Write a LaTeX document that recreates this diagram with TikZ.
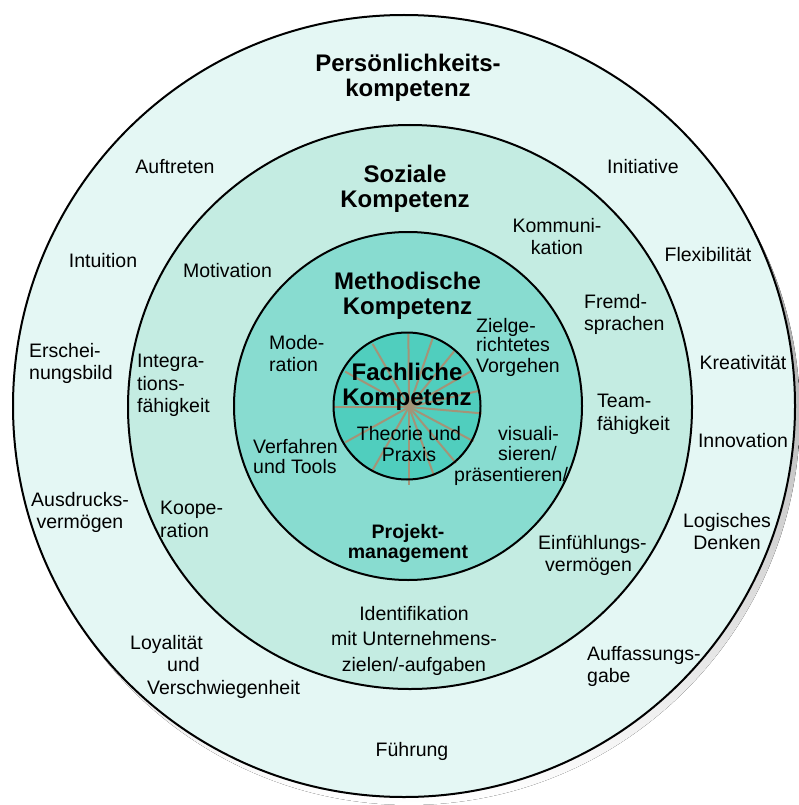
\documentclass[tikz,border=0pt]{standalone}
\usepackage{fontspec}
\setmainfont{Liberation Sans}
\definecolor{ringP}{HTML}{E4F7F4}
\definecolor{ringS}{HTML}{C4ECE2}
\definecolor{ringM}{HTML}{88DCD0}
\definecolor{ringF}{HTML}{50CEBE}
\definecolor{shade}{HTML}{B3B3B3}
\definecolor{spokec}{HTML}{A39478}
\begin{document}
\begin{tikzpicture}[x=1pt,y=-1pt,
  ring/.style={draw=black, line width=2pt},
  spoke/.style={draw=spokec, line width=2pt},
  lbl/.style={inner sep=0pt, font=\fontsize{19.5}{22.5}\selectfont,
    execute at begin node=\strut, execute at end node=\strut},
  lblc/.style={lbl, align=center},
  lbll/.style={lbl, align=left, anchor=west},
  head/.style={inner sep=0pt, align=center, font=\bfseries\fontsize{24}{25}\selectfont,
    execute at begin node=\strut, execute at end node=\strut},
  subhead/.style={inner sep=0pt, align=center, font=\bfseries\fontsize{19.5}{20}\selectfont,
    execute at begin node=\strut, execute at end node=\strut}]
\useasboundingbox (0,0) rectangle (798,805);

% rings, outermost first, with a drop shadow behind the outer one
\fill[shade] (409,414) circle[radius=391pt];
\fill[ringP] (404,406) circle[radius=391pt];
\draw[ring] (404,406) circle[radius=391pt];
\fill[ringS] (410,407) circle[radius=282pt];
\draw[ring] (410,407) circle[radius=282pt];
\fill[ringM] (408,406) circle[radius=174pt];
\draw[ring] (408,406) circle[radius=174pt];
\fill[ringF] (407,406) circle[radius=73.5pt];

% spokes of the core circle
\coordinate (sc) at (409,407);
\foreach \a in {90.5,71,51,30,13,-5,-28,-50,-70,-120,-151,151,120}
  \draw[spoke] (sc) -- ++(\a:73pt);
\draw[spoke] (sc) -- ++(-90:78pt);
\draw[spoke] (sc) -- ++(180:75pt);
\draw[ring] (407,406) circle[radius=73.5pt];

% ring titles
\node[head] (tP) at (408,79) {Persönlichkeits-\\kompetenz};
\node[head] (tS) at (405,190) {Soziale\\Kompetenz};
\node[head] (tM) at (407.5,297.5) {Methodische\\Kompetenz};
\node[head] (tF) at (407,388) {Fachliche\\Kompetenz};
\node[subhead] (tPM) at (408,544) {Projekt-\\management};

% personal competences
\node[lbl] (auf) at (175,169.5) {Auftreten};
\node[lbl] (ini) at (643,169.5) {Initiative};
\node[lbl] (int) at (103,262.5) {Intuition};
\node[lbl] (flex) at (708,256.5) {Flexibilität};
\node[lbll] (ers) at (29,364.75) {Erschei-\\nungsbild};
\node[lbl] (kre) at (743,364.5) {Kreativität};
\node[lbl] (inn) at (743,442.5) {Innovation};
\node[lblc] (aus) at (80,513.75) {Ausdrucks-\\vermögen};
\node[lblc] (log) at (727,534.75) {Logisches\\Denken};
\node[lbll] (loy) at (130,668) {Loyalität\\\hspace*{37pt}und\\\hspace*{17pt}Verschwiegenheit};
\node[lbll] (auff) at (587,667.75) {Auffassungs-\\gabe};
\node[lbl] (fue) at (412,751.5) {Führung};

% social competences
\node[lblc] (kom) at (557,239.75) {Kommuni-\\kation};
\node[lbl] (mot) at (227.5,273) {Motivation};
\node[lbll] (fre) at (584,315.75) {Fremd-\\sprachen};
\node[lbll] (intg) at (137,387) {Integra-\\tions-\\fähigkeit};
\node[lbll] (team) at (597,415.75) {Team-\\fähigkeit};
\node[lbll] (koo) at (160,522.75) {Koope-\\ration};
\node[lbll] (einf) at (538,556.75) {Einfühlungs-\\\hspace*{7pt}vermögen};
\node[lblc] (iden) at (414,642) {Identifikation\\[3pt]mit Unternehmens-\\[3pt]zielen/-aufgaben};

% methodical competences
\node[lbll] (mod) at (269,356.75) {Mode-\\ration};
\node[lbll] (ziel) at (476,349) {Zielge-\\[-4pt]richtetes\\[-1.5pt]Vorgehen};
\node[lbll] (verf) at (253,459.5) {Verfahren\\[-2.5pt]und Tools};
\node[lbll] (vis) at (454,457) {\hspace*{44pt}visuali-\\[-2pt]\hspace*{44pt}sieren/\\[-2pt]präsentieren/};

% professional competence
\node[lblc] (theo) at (409,447) {Theorie und\\[-1.5pt]Praxis};
\end{tikzpicture}
\end{document}
